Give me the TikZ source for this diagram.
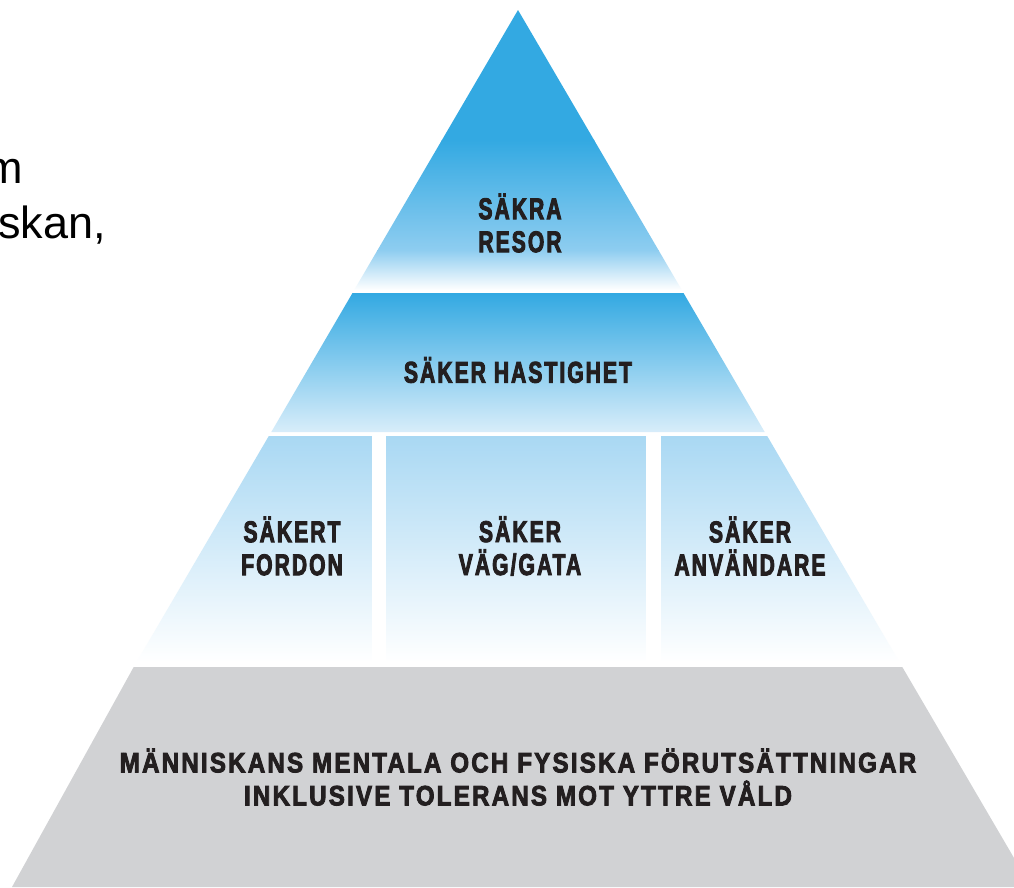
\documentclass[tikz,border=0pt]{standalone}
\usepackage{fontspec}
\setmainfont{Liberation Sans}
\newfontfamily\pyrfont[FakeStretch=0.70,FakeBold=3]{Liberation Sans Bold}
\newfontfamily\basefont[FakeStretch=0.86,FakeBold=3]{Liberation Sans Bold}
\newfontfamily\slidefont{Liberation Sans}
\definecolor{blueA}{HTML}{33A9E2}
\definecolor{blueB}{HTML}{8ECDF0}
\definecolor{blueC}{HTML}{D8EDFA}
\definecolor{blueD}{HTML}{A9D8F3}
\definecolor{grayband}{HTML}{D1D2D4}
\definecolor{txt}{HTML}{231F20}
\tikzset{
  lbl/.style={text=txt, align=center, inner sep=0pt,
    font=\pyrfont\fontsize{30}{33}\selectfont\addfontfeature{LetterSpace=7}},
  lblwide/.style={text=txt, align=center, inner sep=0pt,
    font=\basefont\fontsize{28}{33}\selectfont\addfontfeature{LetterSpace=8}},
  slidetxt/.style={text=black, inner sep=0pt, anchor=base east,
    font=\slidefont\fontsize{45}{52}\selectfont}
}
\begin{document}
\begin{tikzpicture}[x=1pt,y=-1pt]
\useasboundingbox (0,0) rectangle (1014,887);
\fill[white] (0,0) rectangle (1014,887);

% top triangle
\begin{scope}
  \clip (518,10) -- (681.8,290) -- (354.2,290) -- cycle;
  \fill[blueA] (340,0) rectangle (700,140.5);
  \shade[top color=blueA, bottom color=blueB] (340,140) rectangle (700,250.5);
  \shade[top color=blueB, bottom color=white] (340,250) rectangle (700,290);
\end{scope}

% second band
\begin{scope}
  \clip (352.5,293) -- (683.5,293) -- (764.7,432) -- (271.3,432) -- cycle;
  \shade[top color=blueA, bottom color=blueC] (260,293) rectangle (780,432);
\end{scope}

% third band
\begin{scope}
  \clip (268.8,436) -- (767.2,436) -- (899.4,662) -- (136.6,662) -- cycle;
  \shade[top color=blueD, bottom color=white] (130,436) rectangle (910,662);
  \fill[white] (372,430) rectangle (386,665);
  \fill[white] (646,430) rectangle (661,665);
\end{scope}

% base band
\fill[grayband] (133.7,667) -- (902.3,667) -- (1031,887) -- (12,887) -- cycle;

% labels
\node[lbl] (resor) at (520,223) {SÄKRA\\RESOR};
\node[lbl] (hast) at (518,370) {SÄKER HASTIGHET};
\node[lbl] (fordon) at (292,546) {SÄKERT\\FORDON};
\node[lbl] (vag) at (520,546) {SÄKER\\VÄG/GATA};
\node[lbl] (anv) at (750,546) {SÄKER\\ANVÄNDARE};
\node[lblwide] (base) at (518,777) {MÄNNISKANS MENTALA OCH FYSISKA FÖRUTSÄTTNINGAR\\INKLUSIVE TOLERANS MOT YTTRE VÅLD};

% slide text fragments
\node[slidetxt] (frag1) at (23,183) {m};
\node[slidetxt] (frag2) at (106,238) {skan,};
\end{tikzpicture}
\end{document}
